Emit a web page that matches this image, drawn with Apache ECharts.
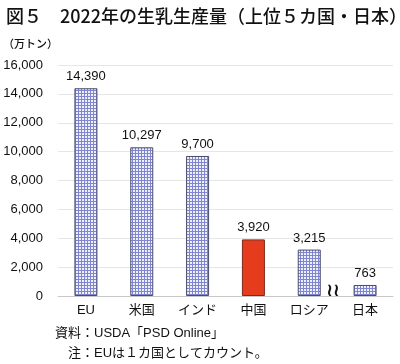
<!DOCTYPE html>
<html><head><meta charset="utf-8">
<script src="https://cdn.jsdelivr.net/npm/echarts@6/dist/echarts.min.js"></script>
<style>html,body{margin:0;padding:0;background:#fff}#c{width:400px;height:364px}</style>
</head><body><div id="c"></div>
<script>
const categories = ['EU','米国','インド','中国','ロシア','日本'];
const production = [14390, 10297, 9700, 3920, 3215, 763];
const highlight = ['中国'];
const yTicks = [0, 2000, 4000, 6000, 8000, 10000, 12000, 14000, 16000];

const JP = '"Liberation Sans","Noto Sans CJK JP",sans-serif';

// plaid pattern
const pc = document.createElement('canvas');
pc.width = 3; pc.height = 3;
const g = pc.getContext('2d');
g.fillStyle = '#eef0fb'; g.fillRect(0,0,3,3);
g.fillStyle = '#7f85cf'; g.fillRect(0,0,3,1); g.fillRect(0,0,1,3);
const pattern = {image: pc, repeat: 'repeat'};

const chart = echarts.init(document.getElementById('c'), null, {renderer:'canvas'});
chart.setOption({
  animation:false,
  grid:{left:58, right:7, top:65, bottom:68, containLabel:false},
  title:{text:'図５　2022年の生乳生産量（上位５カ国・日本）', left:1, top:2,
    textStyle:{fontFamily:'"Noto Sans CJK JP",sans-serif', fontSize:18, fontWeight:500, color:'#111'}},
  xAxis:{type:'category', data:categories,
    axisLine:{show:true, lineStyle:{color:'#c8c8c8'}}, axisTick:{show:false},
    axisLabel:{color:'#111', fontSize:13, fontFamily:JP, margin:8}},
  yAxis:{type:'value', min:yTicks[0], max:yTicks[yTicks.length-1], interval:2000,
    axisLine:{show:false}, axisTick:{show:false},
    splitLine:{lineStyle:{color:'#e6e6e6'}},
    axisLabel:{color:'#111', fontSize:13, fontFamily:JP, margin:15,
      formatter:v=>v.toLocaleString('en-US')}},
  series:[{type:'bar', barWidth:23,
    data: production.map((v,i)=>({value:v,
      itemStyle: highlight.includes(categories[i]) ?
        {color:'#e63c1e', borderColor:'#7a2a1c', borderWidth:1} :
        {color:pattern, borderColor:'#4a4d6a', borderWidth:1}})),
    label:{show:true, position:'top', distance:5, color:'#111', fontSize:13, fontFamily:JP,
      formatter:p=>p.value.toLocaleString('en-US')}
  }],
  graphic:[
    {type:'text', left:3, top:38, style:{text:'（万トン）', font:'500 11px "Noto Sans CJK JP"', fill:'#111'}},
    {type:'text', left:55, top:323, style:{text:'資料：USDA「PSD Online」\n　注：EUは１カ国としてカウント。', font:'13px "Liberation Sans","Noto Sans CJK JP"', fill:'#111', lineHeight:20}},
    {type:'text', x:333, y:291, style:{text:'≀≀', font:'bold 18px "DejaVu Sans"', fill:'#111', align:'center', verticalAlign:'middle'}}
  ]
});
</script></body></html>
